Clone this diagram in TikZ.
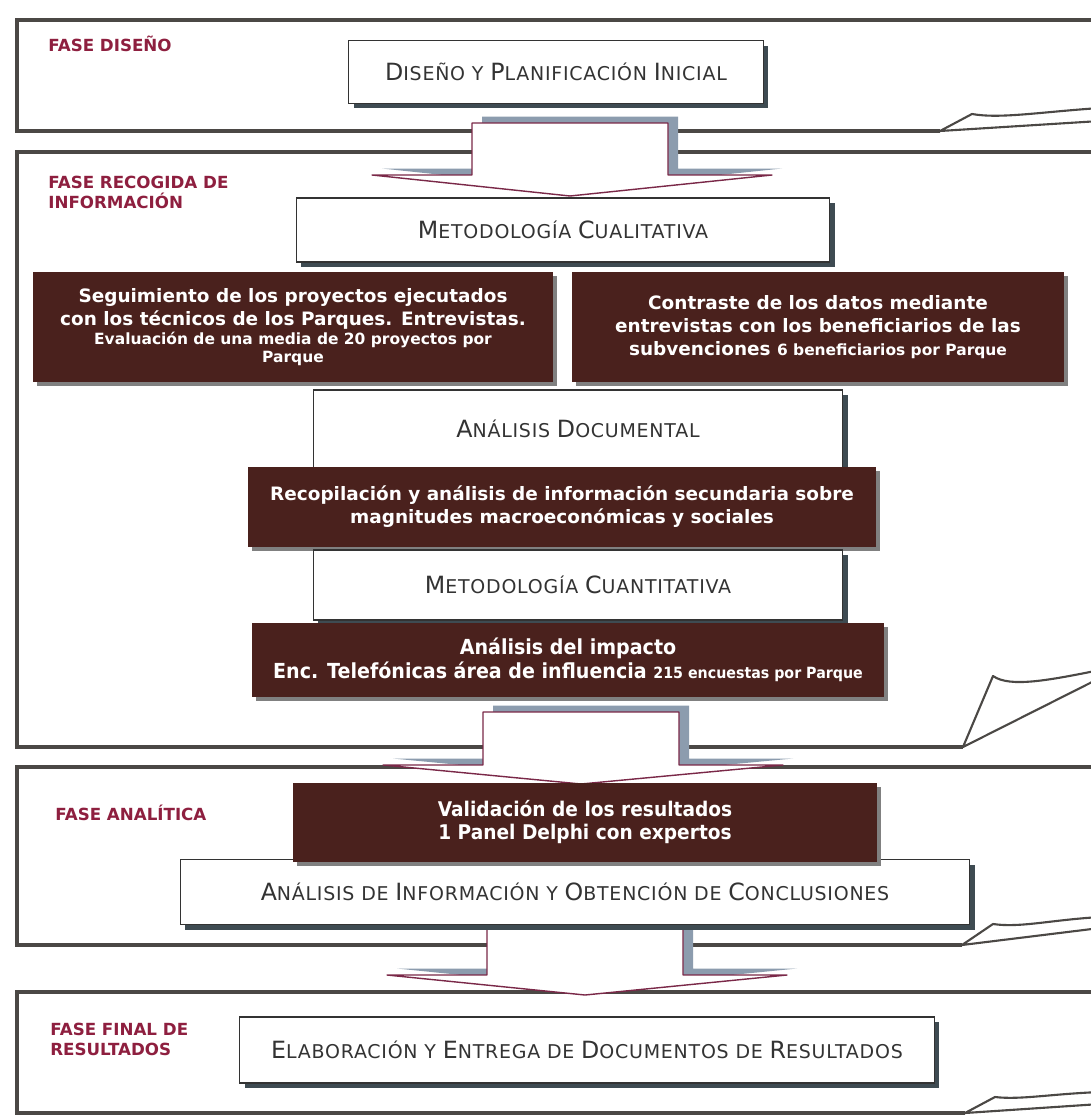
\documentclass[tikz,border=0pt]{standalone}
\usepackage{fontspec}
\setmainfont{DejaVu Sans}
\newfontfamily\scfont{DejaVu Sans}[LetterSpace = 4]
\newfontfamily\condfont{DejaVu Sans}[FakeStretch = 0.92]
\usetikzlibrary{shadows}

\definecolor{panelgray}{HTML}{4B4845}
\definecolor{darkbrown}{HTML}{4A211D}
\definecolor{phasered}{HTML}{8E1F3F}
\definecolor{boxtext}{HTML}{333333}
\definecolor{boxshadow}{HTML}{3E4B52}
\definecolor{arrowline}{HTML}{7A2848}
\definecolor{arrowshade}{HTML}{8C9CAE}

\newcommand{\capl}[1]{{\fontsize{13.5}{13.5}\selectfont #1}}
\newcommand{\smallline}{\fontsize{8.8}{10}\selectfont}

\tikzset{
	phase/.style = {draw = panelgray, line width = 2.4pt},
	curl/.style = {draw = panelgray, line width = 1.2pt, fill = white, line join = round},
	phasename/.style = {text = phasered, font = \bfseries\fontsize{9.5}{11}\selectfont, align = left, anchor = north west, inner sep = 0pt},
	stepbox/.style = {draw = boxtext, line width = 0.6pt, fill = white, text = boxtext, font = \scfont\fontsize{10.8}{11}\selectfont, drop shadow = {shadow xshift = 1mm, shadow yshift = -1mm, fill = boxshadow, opacity = 1}},
	taskbox/.style = {fill = darkbrown, text = white, align = center, font = \bfseries\fontsize{10.5}{13}\selectfont, drop shadow = {shadow xshift = 0.8mm, shadow yshift = -0.8mm, fill = gray, opacity = 1}},
	bigarrow/.style = {draw = arrowline, line width = 0.8pt, fill = white, line join = round}
}

\begin{document}
\begin{tikzpicture}[x = 0.02cm, y = -0.02cm]

	\clip (0, 0) rectangle (1091, 1115);
	\fill [white] (0, 0) rectangle (1091, 1115);

	% Phase frames

	\draw [phase] (1100, 20) -- (17, 20) -- (17, 131) -- (940, 131);
	\draw [curl] (940, 131) -- (972, 114) .. controls (1000, 119) and (1040, 112) .. (1100, 108) -- (1100, 121) -- cycle;

	\draw [phase] (1100, 152) -- (17, 152) -- (17, 747) -- (963, 747);
	\draw [curl] (963, 747) -- (993, 676) .. controls (1010, 688) and (1050, 680) .. (1100, 670) -- (1100, 678) -- cycle;

	\draw [phase] (1100, 767) -- (17, 767) -- (17, 945) -- (962, 945);
	\draw [curl] (962, 945) -- (993, 924) .. controls (1020, 928) and (1050, 920) .. (1100, 917) -- (1100, 928) -- cycle;

	\draw [phase] (1100, 992) -- (17, 992) -- (17, 1113) -- (965, 1113);
	\draw [curl] (965, 1113) -- (995, 1097) .. controls (1020, 1100) and (1050, 1094) .. (1100, 1092) -- (1100, 1104) -- cycle;

	% Phase names

	\node (fdiseno) at (48, 36) [phasename] {FASE DISEÑO};
	\node (frecogida) at (48, 176) [phasename] {FASE RECOGIDA DE\\INFORMACIÓN};
	\node (fanalitica) at (55, 805) [phasename] {FASE ANALÍTICA};
	\node (ffinal) at (50, 1023) [phasename] {FASE FINAL DE\\RESULTADOS};

	% Arrows between phases

	\foreach \sx/\sy/\wy/\ty in {472/123/175/196, 483/712/765/784, 487/918/975/995} {
		\fill [arrowshade, xshift = 0.2cm, yshift = 0.13cm] (\sx, \sy) -- ++(196, 0) -- (\sx + 196, \wy) -- (\sx + 300, \wy) -- (\sx + 98, \ty) -- (\sx - 100, \wy) -- (\sx, \wy) -- cycle;
		\draw [bigarrow] (\sx, \sy) -- ++(196, 0) -- (\sx + 196, \wy) -- (\sx + 300, \wy) -- (\sx + 98, \ty) -- (\sx - 100, \wy) -- (\sx, \wy) -- cycle;
	}

	% Diseño

	\node (diseno) at (556, 72) [stepbox, minimum width = 8.3cm, minimum height = 1.26cm] {\capl{D}ISEÑO Y \capl{P}LANIFICACIÓN \capl{I}NICIAL};

	% Recogida de información

	\node (cualitativa) at (563, 230) [stepbox, minimum width = 10.68cm, minimum height = 1.28cm] {\capl{M}ETODOLOGÍA \capl{C}UALITATIVA};
	\node (seguimiento) at (293, 327) [taskbox, minimum width = 10.4cm, minimum height = 2.2cm] {Seguimiento de los proyectos ejecutados\\con los técnicos de los Parques. Entrevistas.\\[-2pt]{\smallline Evaluación de una media de 20 proyectos por}\\[-3pt]{\smallline Parque}};
	\node (contraste) at (818, 327) [taskbox, minimum width = 9.86cm, minimum height = 2.2cm] {Contraste de los datos mediante\\entrevistas con los beneficiarios de las\\subvenciones {\smallline 6 beneficiarios por Parque}};
	\node (documental) at (578, 429) [stepbox, minimum width = 10.6cm, minimum height = 1.56cm] {\capl{A}NÁLISIS \capl{D}OCUMENTAL};
	\node (recopilacion) at (562, 507) [taskbox, minimum width = 12.58cm, minimum height = 1.6cm] {Recopilación y análisis de información secundaria sobre\\magnitudes macroeconómicas y sociales};
	\node (cuantitativa) at (578, 585) [stepbox, minimum width = 10.6cm, minimum height = 1.4cm] {\capl{M}ETODOLOGÍA \capl{C}UANTITATIVA};
	\node (impacto) at (568, 660) [taskbox, font = \condfont\bfseries\fontsize{11.8}{13.5}\selectfont, minimum width = 12.66cm, minimum height = 1.48cm] {Análisis del impacto\\Enc. Telefónicas área de influencia {\smallline 215 encuestas por Parque}};

	% Analítica

	\node (conclusiones) at (575, 892) [stepbox, minimum width = 15.8cm, minimum height = 1.3cm] {\capl{A}NÁLISIS DE \capl{I}NFORMACIÓN Y \capl{O}BTENCIÓN DE \capl{C}ONCLUSIONES};
	\node (validacion) at (585, 822) [taskbox, font = \condfont\bfseries\fontsize{11.5}{13.5}\selectfont, minimum width = 11.7cm, minimum height = 1.58cm] {Validación de los resultados\\1 Panel Delphi con expertos};

	% Resultados

	\node (elaboracion) at (587, 1050) [stepbox, minimum width = 13.9cm, minimum height = 1.32cm] {\capl{E}LABORACIÓN Y \capl{E}NTREGA DE \capl{D}OCUMENTOS DE \capl{R}ESULTADOS};

\end{tikzpicture}
\end{document}
